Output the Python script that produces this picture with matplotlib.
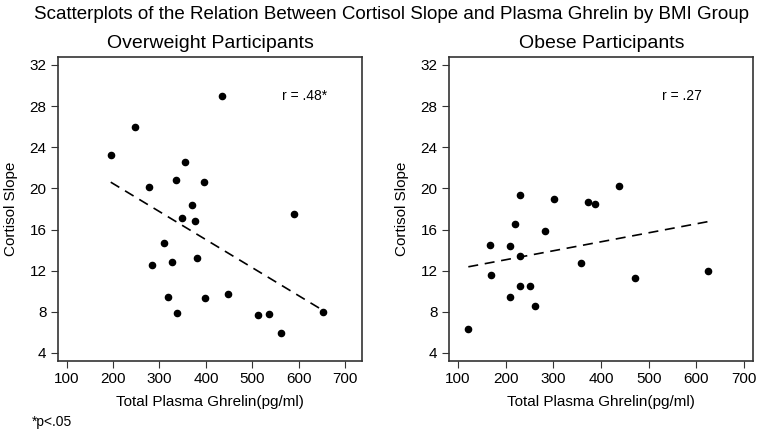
import numpy as np
import matplotlib
matplotlib.use('Agg')
import matplotlib.pyplot as plt

plt.rcParams['font.family'] = ['Liberation Sans', 'DejaVu Sans']

# overweight group
ow_ghrelin = [434, 248, 195, 356, 336, 395, 277, 371, 349, 377, 589,
              310, 284, 326, 380, 318, 397, 447, 337, 512, 536, 562, 653]
ow_slope = [29.0, 26.0, 23.2, 22.6, 20.8, 20.6, 20.1, 18.4, 17.1, 16.8, 17.5,
            14.7, 12.6, 12.8, 13.2, 9.4, 9.3, 9.7, 7.9, 7.7, 7.8, 5.9, 8.0]

# obese group
ob_ghrelin = [437, 230, 301, 372, 388, 220, 282, 167, 209, 230,
              170, 357, 471, 624, 231, 251, 209, 262, 122]
ob_slope = [20.2, 19.4, 18.95, 18.7, 18.5, 16.5, 15.9, 14.5, 14.4, 13.4,
            11.6, 12.7, 11.3, 11.95, 10.5, 10.5, 9.4, 8.6, 6.3]

yticks = [4, 8, 12, 16, 20, 24, 28, 32]
xticks = [100, 200, 300, 400, 500, 600, 700]

fig = plt.figure(figsize=(7.64, 4.38), dpi=100)

panels = [
    ('Overweight Participants', ow_ghrelin, ow_slope, 'r = .48*', [0.0763, 0.1765, 0.398, 0.694], (82, 737), 0.735),
    ('Obese Participants', ob_ghrelin, ob_slope, 'r = .27', [0.588, 0.1765, 0.398, 0.694], (82, 719), 0.70),
]

for title, xs, ys, rtxt, rect, xl, rx in panels:
    ax = fig.add_axes(rect)
    xs = np.array(xs)
    ys = np.array(ys)
    ax.scatter(xs, ys, s=20, color='black', zorder=3)
    b, a = np.polyfit(xs, ys, 1)
    lx = np.array([xs.min(), xs.max()])
    ax.plot(lx, a + b * lx, color='black', lw=1.2, dashes=(6, 4))
    ax.set_xlim(*xl)
    ax.set_ylim(3.25, 32.8)
    ax.set_xticks(xticks)
    ax.set_yticks(yticks)
    ax.tick_params(labelsize=11, length=5, color='#333333')
    for sp in ax.spines.values():
        sp.set_color('#333333')
        sp.set_linewidth(1.2)
    ax.set_title(title, fontsize=14, pad=6)
    ax.set_xlabel('Total Plasma Ghrelin(pg/ml)', fontsize=11, labelpad=6)
    ax.set_ylabel('Cortisol Slope', fontsize=11, labelpad=8)
    ax.text(rx, 0.87, rtxt, transform=ax.transAxes, fontsize=10, va='center')

fig.text(0.512, 0.966, 'Scatterplots of the Relation Between Cortisol Slope and Plasma Ghrelin by BMI Group',
         ha='center', va='center', fontsize=13.5)
fig.text(0.042, 0.036, '*p<.05', fontsize=10, va='center')

fig.savefig('out.png', dpi=100)
